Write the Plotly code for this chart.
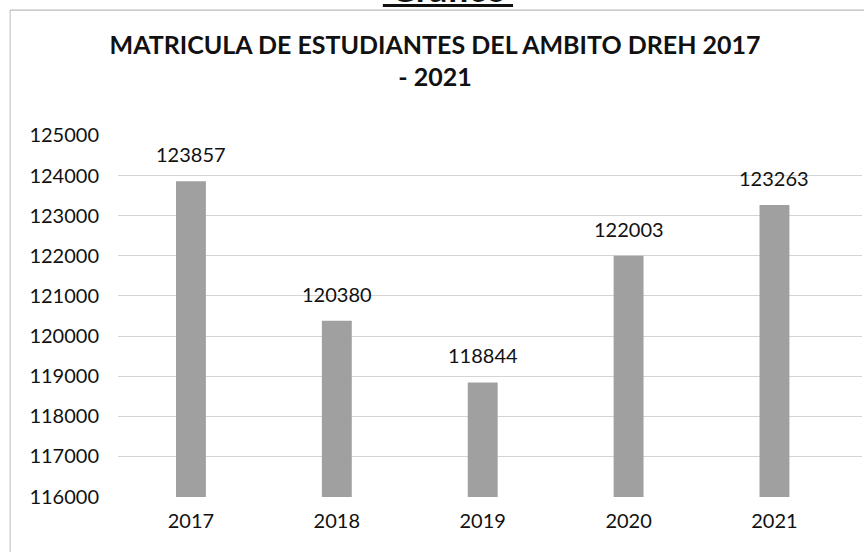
import plotly.graph_objects as go

# Data
years = ["2017", "2018", "2019", "2020", "2021"]
matricula = [123857, 120380, 118844, 122003, 123263]
y_ticks = [116000, 117000, 118000, 119000, 120000, 121000, 122000, 123000, 124000, 125000]

FONT = "Lato, Open Sans, sans-serif"

fig = go.Figure()
fig.add_trace(go.Bar(
    x=years,
    y=matricula,
    marker=dict(color="#a0a0a0", line=dict(width=0)),
    width=0.205,
    cliponaxis=False,
))

# value labels a little above each bar (x given as category index)
for i, v in enumerate(matricula):
    fig.add_annotation(x=i, y=v, text=str(v), showarrow=False,
                       yanchor="bottom", yshift=13,
                       font=dict(family=FONT, size=20, color="#111111"))

fig.update_layout(
    width=864,
    height=552,
    paper_bgcolor="white",
    plot_bgcolor="white",
    margin=dict(l=118, r=2, t=135, b=55),
    showlegend=False,
    title=dict(
        text="<b>MATRICULA DE ESTUDIANTES DEL AMBITO DREH 2017<br>- 2021</b>",
        x=0.5035, xanchor="center",
        y=0.9027, yanchor="middle",
        font=dict(family=FONT, size=25, color="#111111"),
    ),
    font=dict(family=FONT, size=20, color="#111111"),
)

fig.update_yaxes(
    range=[115990, 125010],
    tickvals=y_ticks,
    ticktext=[str(v) for v in y_ticks],
    showgrid=True,
    gridcolor="#d4d4d4",
    gridwidth=1,
    zeroline=False,
    showline=False,
    ticks="",
    ticklabelstandoff=18,
)
fig.update_xaxes(type="category", range=[-0.5, 4.6], showgrid=False,
                 showline=False, ticks="", ticklabelstandoff=10)

# chart frame from the scanned page
fig.add_shape(type="line", xref="paper", yref="paper",
              x0=-0.145, x1=1.01, y0=1.345, y1=1.345,
              line=dict(color="#aaaaaa", width=1))
fig.add_shape(type="line", xref="paper", yref="paper",
              x0=-0.145, x1=-0.145, y0=1.345, y1=-0.2,
              line=dict(color="#bbbbbb", width=1))

# cut-off page heading (only its lower edge shows on the scan)
fig.add_annotation(text="<b>Gráfico</b>", xref="paper", yref="paper",
                   x=0.4435, y=1.34, xanchor="center", yanchor="bottom",
                   showarrow=False,
                   font=dict(family=FONT, size=36, color="#111111"))
fig.add_shape(type="line", xref="paper", yref="paper",
              x0=0.356, x1=0.531, y0=1.358, y1=1.358,
              line=dict(color="#111111", width=3))

# drop the default body margin so the figure sits at the window's corner
fig.write_html("out.html", config={"displayModeBar": False},
               post_script="document.body.style.margin='0px';")
